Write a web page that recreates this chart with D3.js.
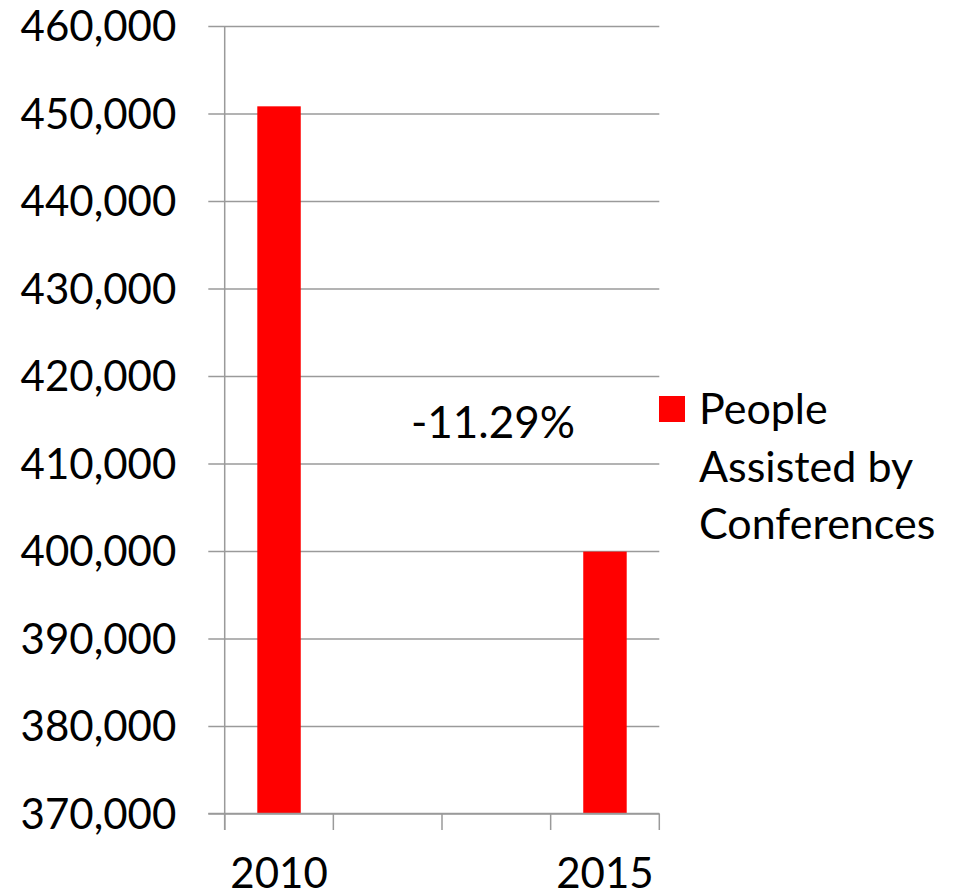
<!DOCTYPE html>
<html>
<head>
<meta charset="utf-8">
<script src="https://cdn.jsdelivr.net/npm/d3@7"></script>
<style>
  body { margin: 0; background: #fff; }
  text { font-family: Lato, "Open Sans", sans-serif; fill: #000; }
</style>
</head>
<body>
<svg id="chart"></svg>
<script>
// data
const slots = ["2010", "2011", "2013", "2015"];
const tickLabels = ["2010", "", "", "2015"];
const peopleAssisted = [450820, null, null, 399930];
const yTicks = [370000, 380000, 390000, 400000, 410000, 420000, 430000, 440000, 450000, 460000];
const seriesName = ["People", "Assisted by", "Conferences"];
const changeLabel = "-11.29%";

const width = 962;
const height = 895;
const plotLeft = 224.7, plotRight = 659.3, plotTop = 26, plotBottom = 813.5;
const gridColor = "#9a9a9a";
const barColor = "#ff0000";

const svg = d3.select("#chart")
  .attr("width", width)
  .attr("height", height);

const x = d3.scaleBand()
  .domain(slots)
  .range([plotLeft, plotRight])
  .padding(0);

const y = d3.scaleLinear()
  .domain([370000, 460000])
  .range([plotBottom, plotTop]);

// gridlines + labels
const yAxis = svg.append("g")
  .attr("transform", `translate(${plotLeft - 16.4},0)`)
  .call(d3.axisLeft(y)
    .tickValues(yTicks)
    .tickFormat(d3.format(","))
    .tickSize(-(plotRight - plotLeft + 16.4))
    .tickPadding(32));
yAxis.select(".domain").remove();
yAxis.selectAll(".tick line")
  .attr("stroke", gridColor)
  .attr("stroke-width", 1.5);
yAxis.selectAll(".tick text")
  .style("font-size", "42px")
  .attr("dy", "0.35em");

// bars
const barW = x.bandwidth() * 0.4;
svg.append("g")
  .selectAll("rect")
  .data(slots.map((s, i) => ({slot: s, value: peopleAssisted[i]})).filter(d => d.value != null))
  .enter().append("rect")
  .attr("x", d => x(d.slot) + (x.bandwidth() - barW) / 2)
  .attr("width", barW)
  .attr("y", d => y(d.value))
  .attr("height", d => y.range()[0] - y(d.value))
  .attr("fill", barColor);

// axis lines and edge ticks
const edges = slots.map(s => x(s)).concat([plotRight]);
svg.append("line")
  .attr("x1", plotLeft).attr("x2", plotLeft)
  .attr("y1", plotTop).attr("y2", plotBottom + 16.5)
  .attr("stroke", gridColor).attr("stroke-width", 1.5);
svg.append("line")
  .attr("x1", plotLeft - 16.4).attr("x2", plotRight)
  .attr("y1", plotBottom).attr("y2", plotBottom)
  .attr("stroke", gridColor).attr("stroke-width", 1.5);
svg.append("g")
  .selectAll("line")
  .data(edges)
  .enter().append("line")
  .attr("x1", d => d).attr("x2", d => d)
  .attr("y1", plotBottom).attr("y2", plotBottom + 16.5)
  .attr("stroke", gridColor).attr("stroke-width", 1.5);

const xAxis = svg.append("g")
  .attr("transform", `translate(0,${plotBottom})`)
  .call(d3.axisBottom(x)
    .tickSize(0)
    .tickPadding(0)
    .tickFormat((d, i) => tickLabels[i]));
xAxis.select(".domain").remove();
xAxis.selectAll(".tick text")
  .style("font-size", "42px")
  .attr("y", 74)
  .attr("dy", 0);

// change annotation
svg.append("text")
  .attr("x", 493)
  .attr("y", 438)
  .attr("text-anchor", "middle")
  .style("font-size", "44px")
  .text(changeLabel);

// legend
const legend = svg.append("g");
legend.append("rect")
  .attr("x", 659).attr("y", 396)
  .attr("width", 26).attr("height", 26)
  .attr("fill", barColor);
legend.selectAll("text")
  .data(seriesName)
  .enter().append("text")
  .attr("x", 699)
  .attr("y", (d, i) => 424 + i * 57.5)
  .style("font-size", "43px")
  .text(d => d);
</script>
</body>
</html>
